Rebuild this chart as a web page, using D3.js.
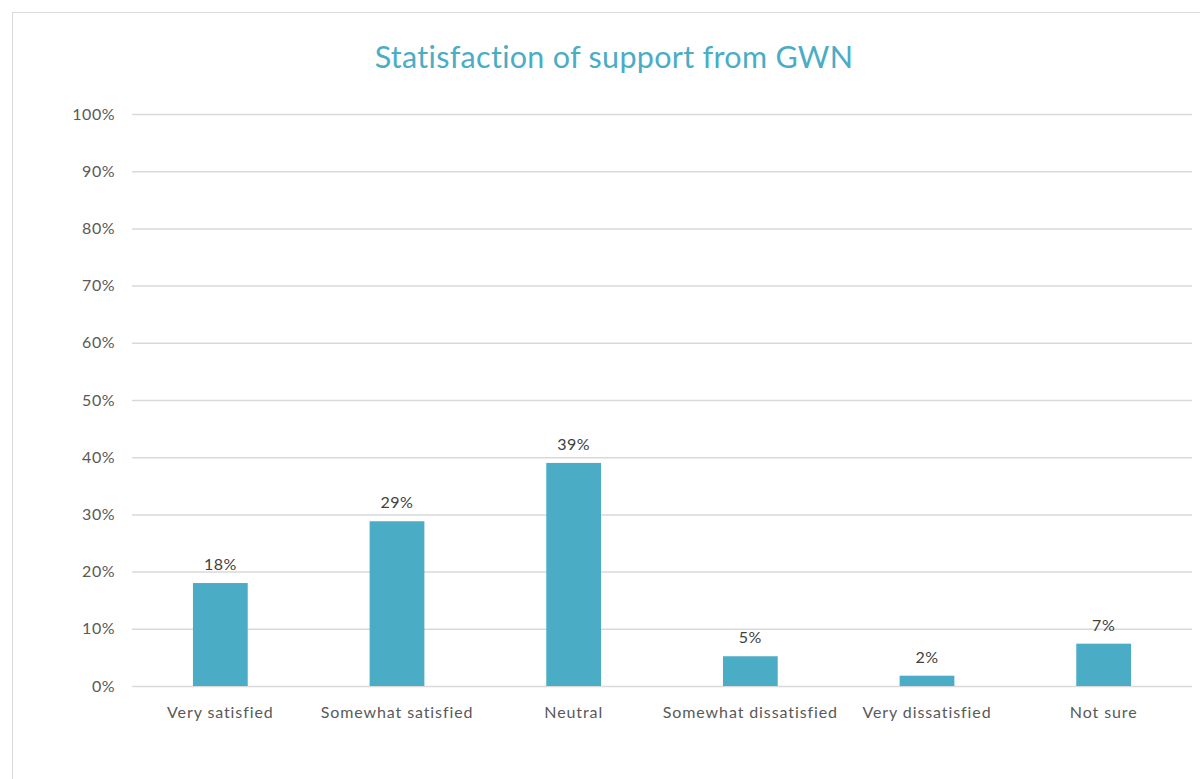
<!DOCTYPE html>
<html>
<head>
<meta charset="utf-8">
<script src="https://cdn.jsdelivr.net/npm/d3@7"></script>
<style>
  html, body { margin: 0; padding: 0; background: #fff; }
  svg { display: block; font-family: Lato, "Open Sans", "Liberation Sans", sans-serif; }
</style>
</head>
<body>
<svg id="chart" width="1200" height="779"></svg>
<script>
// Survey responses: share of respondents per satisfaction level (%)
const categories = ["Very satisfied", "Somewhat satisfied", "Neutral", "Somewhat dissatisfied", "Very dissatisfied", "Not sure"];
const shares = [18, 28.8, 39, 5.2, 1.8, 7.4];
const yTicks = [0, 10, 20, 30, 40, 50, 60, 70, 80, 90, 100];
const title = "Statisfaction of support from GWN";

const svg = d3.select("#chart");
const W = 1200, H = 779;
const margin = { left: 132, right: 8, top: 114, bottom: 93 };

// Outer chart frame (open to the right edge)
svg.append("rect")
  .attr("x", 12.5).attr("y", 12.5)
  .attr("width", W + 10).attr("height", H + 10)
  .attr("fill", "#fff").attr("stroke", "#d9d9d9").attr("stroke-width", 1);

const x = d3.scaleBand()
  .domain(categories)
  .range([margin.left, W - margin.right])
  .paddingInner(0.69)
  .paddingOuter(0.345);

const y = d3.scaleLinear()
  .domain([0, 100])
  .range([H - margin.bottom, margin.top]);

// Horizontal gridlines with percent labels
const yAxis = d3.axisLeft(y)
  .tickValues(yTicks)
  .tickFormat(d => d + "%")
  .tickSize(-(W - margin.right - margin.left))
  .tickPadding(17);

const gy = svg.append("g")
  .attr("transform", `translate(${margin.left},0)`)
  .call(yAxis);
gy.select(".domain").remove();
gy.selectAll(".tick line").attr("stroke", "#d9d9d9").attr("stroke-width", 1.5);
gy.selectAll(".tick text")
  .attr("fill", "#595959")
  .attr("font-size", 16)
  .attr("letter-spacing", 0.5)
  .attr("font-family", "Lato, 'Open Sans', sans-serif");

// Bars
svg.append("g")
  .selectAll("rect")
  .data(shares)
  .join("rect")
  .attr("x", (d, i) => x(categories[i]))
  .attr("y", d => y(d))
  .attr("width", x.bandwidth())
  .attr("height", d => y(0) - y(d))
  .attr("fill", "#4bacc6");

// Value labels above bars
svg.append("g")
  .selectAll("text")
  .data(shares)
  .join("text")
  .attr("x", (d, i) => x(categories[i]) + x.bandwidth() / 2)
  .attr("y", d => y(d) - 13)
  .attr("text-anchor", "middle")
  .attr("fill", "#404040")
  .attr("font-size", 16)
  .attr("letter-spacing", 0.5)
  .text(d => Math.round(d) + "%");

// Category axis labels
const xAxis = d3.axisBottom(x).tickSize(0).tickPadding(21);
const gx = svg.append("g")
  .attr("transform", `translate(0,${y(0)})`)
  .call(xAxis);
gx.select(".domain").remove();
gx.selectAll(".tick text")
  .attr("fill", "#595959")
  .attr("font-size", 16)
  .attr("letter-spacing", 0.9)
  .attr("font-family", "Lato, 'Open Sans', sans-serif");

// Chart title
svg.append("text")
  .attr("x", 614)
  .attr("y", 68)
  .attr("text-anchor", "middle")
  .attr("fill", "#4bacc6")
  .attr("font-size", 30.5)
  .attr("letter-spacing", 0.3)
  .text(title);
</script>
</body>
</html>
